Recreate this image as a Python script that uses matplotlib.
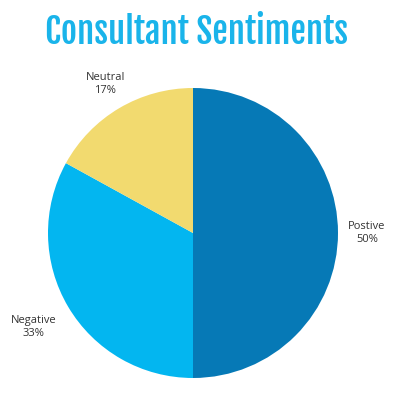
import matplotlib
matplotlib.use("Agg")
import matplotlib.pyplot as plt
import numpy as np

labels = ["Postive", "Negative", "Neutral"]
values = [50, 33, 17]
colors = ["#0679b6", "#03b6f0", "#f2da6f"]
label_dist = [1.2, 1.28, 1.19]

fig = plt.figure(figsize=(4.02, 3.97), dpi=100)
ax = fig.add_axes([48/402, 19/397, 290/402, 290/397])
wedges, _ = ax.pie(values, colors=colors, startangle=90, counterclock=False,
                   radius=1, wedgeprops=dict(linewidth=0))
ax.set_xlim(-1, 1); ax.set_ylim(-1, 1)
ax.set_aspect('auto')
ax.axis('off')

for w, lab, v, d in zip(wedges, labels, values, label_dist):
    ang = np.deg2rad((w.theta1 + w.theta2) / 2)
    ax.text(d*np.cos(ang), d*np.sin(ang), f"{lab}\n{v}%", ha='center', va='center',
            fontsize=8, fontweight='normal', color='#333333',
            family=['Open Sans', 'DejaVu Sans'], linespacing=1.25, clip_on=False)

fig.text(197/402, 1 - 32/397, "Consultant Sentiments", ha='center', va='center',
         fontsize=25, color='#1ab4ea', family=['Fjalla One', 'DejaVu Sans'])

fig.savefig("out.png", dpi=100)
